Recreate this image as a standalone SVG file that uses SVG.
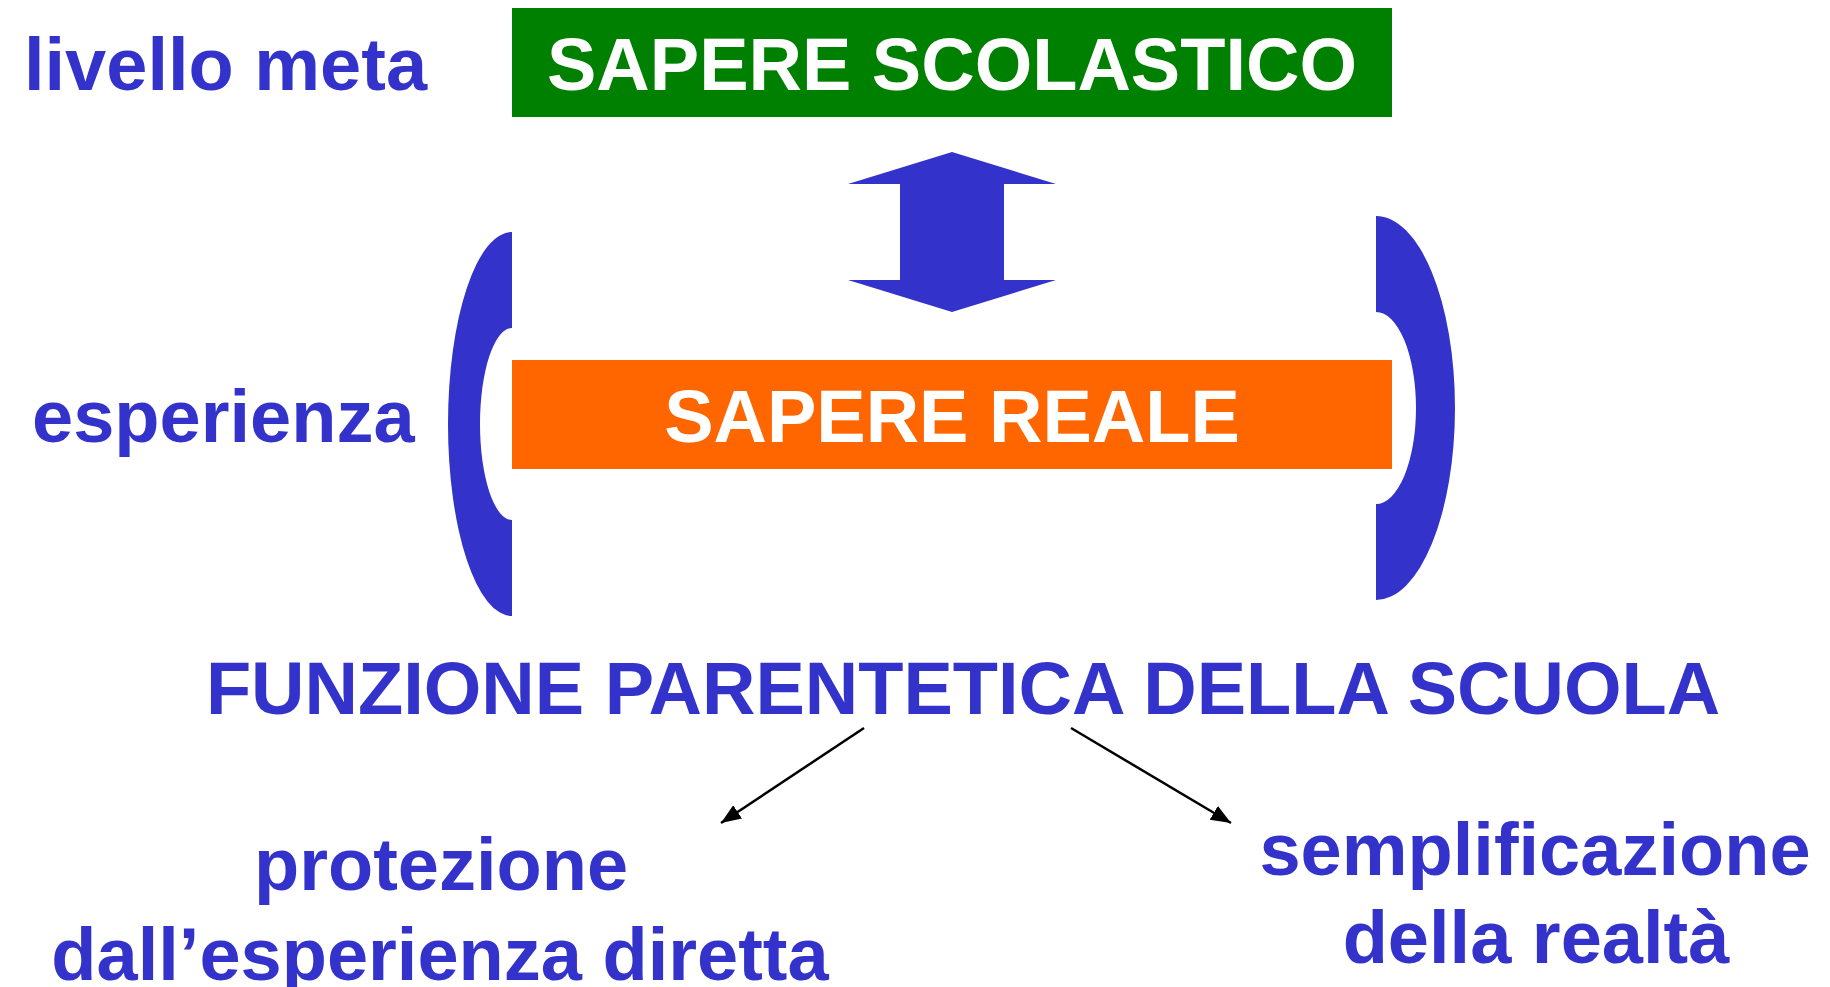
<svg xmlns="http://www.w3.org/2000/svg" width="1830" height="987" viewBox="0 0 1830 987">
<style>
.t{font-family:"Liberation Sans",Arial,sans-serif;font-weight:bold;font-size:74px}
.b{fill:#3333CC}
.w{fill:#FFFFFF}
.conn{stroke:#000;stroke-width:2.5;fill:none;marker-end:url(#ah)}
</style>
<defs>
<marker id="ah" markerUnits="userSpaceOnUse" markerWidth="22" markerHeight="18" refX="20" refY="8" orient="auto">
<path d="M0,0 L20,8 L0,16 Z" fill="#000"/>
</marker>
</defs>
<rect width="1830" height="987" fill="#fff"/>
<g id="label-livello-meta"><text class="t b" x="24" y="90">livello meta</text></g>
<g id="label-esperienza"><text class="t b" x="32" y="442">esperienza</text></g>
<g id="sapere-scolastico">
<rect x="512" y="8" width="880" height="109" fill="#008000"/>
<text class="t w" x="952" y="90" text-anchor="middle">SAPERE SCOLASTICO</text>
</g>
<g id="double-arrow">
<polygon class="b" points="952,152 1056,184 1004,184 1004,280 1056,280 952,312 848,280 900,280 900,184 848,184"/>
</g>
<g id="bracket-left">
<path class="b" d="M512,232 A64,192 0 0 0 512,616 L512,520 A32,96 0 0 1 512,328 Z"/>
</g>
<g id="bracket-right">
<path class="b" d="M1376,216 A79,192 0 0 1 1376,600 L1376,504 A40,96 0 0 0 1376,312 Z"/>
</g>
<g id="sapere-reale">
<rect x="512" y="360" width="880" height="109" fill="#FF6600"/>
<text class="t w" x="952" y="442" text-anchor="middle">SAPERE REALE</text>
</g>
<g id="funzione"><text class="t b" x="963" y="714" text-anchor="middle">FUNZIONE PARENTETICA DELLA SCUOLA</text></g>
<g id="protezione">
<text class="t b" x="441" y="890" text-anchor="middle">protezione</text>
<text class="t b" x="440" y="980" text-anchor="middle">dall’esperienza diretta</text>
</g>
<g id="semplificazione">
<text class="t b" x="1535" y="875" text-anchor="middle">semplificazione</text>
<text class="t b" x="1536" y="963" text-anchor="middle">della realtà</text>
</g>
<g id="connectors">
<line class="conn" x1="864" y1="728" x2="721" y2="823"/>
<line class="conn" x1="1071" y1="728" x2="1231" y2="823"/>
</g>
</svg>
